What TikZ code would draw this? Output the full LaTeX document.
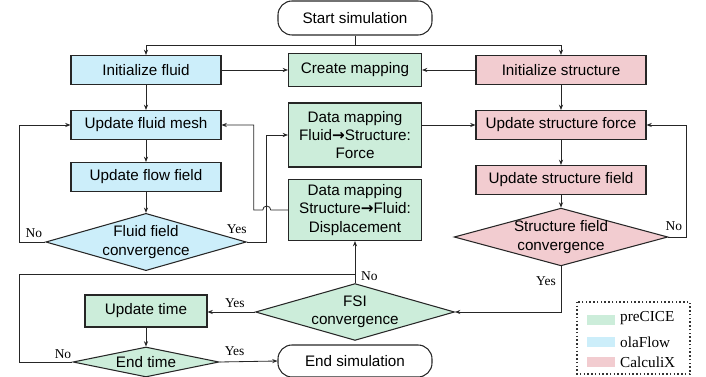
\documentclass[tikz,border=0pt]{standalone}
\usepackage{fontspec}
\setmainfont{Liberation Sans}
\newfontfamily\labelfont{Liberation Serif}
\newfontfamily\arrowfont{DejaVu Sans}
\usepackage{xcolor}
\usepackage{tikz}
\usetikzlibrary{arrows.meta,shapes.geometric,calc}
\definecolor{olablue}{HTML}{CCEEFA}
\definecolor{cicegreen}{HTML}{CCEDDA}
\definecolor{ccxpink}{HTML}{F2CCD0}
\newcommand{\boxfont}{\fontsize{13}{15.5}\selectfont}
\newcommand{\ynfont}{\labelfont\fontsize{11.5}{13}\selectfont}
\newcommand{\legfont}{\labelfont\fontsize{13}{15}\selectfont}
\newcommand{\toarrow}{{\arrowfont\bfseries →}}

\begin{document}
\begin{tikzpicture}[x=0.03cm,y=-0.03cm,
  procbox/.style={draw=black!85,line width=0.9pt,align=center,font=\boxfont,inner sep=1pt},
  fluid/.style={procbox,fill=olablue,minimum width=4.5cm,minimum height=0.87cm},
  struct/.style={procbox,fill=ccxpink,minimum width=5.1cm,minimum height=0.87cm},
  cice/.style={procbox,fill=cicegreen,minimum width=3.99cm},
  decide/.style={procbox,diamond,inner sep=0pt},
  terminal/.style={procbox,rounded corners=0.42cm,minimum width=4.62cm,minimum height=1.02cm},
  link/.style={-{Stealth[length=4.5pt,width=3.5pt]},line width=0.7pt,draw=black!85},
  yn/.style={font=\ynfont,inner sep=0pt},
  legtxt/.style={font=\legfont,inner sep=0pt,anchor=west}]
  \useasboundingbox (0,0) rectangle (706,377);

  % Start and initialization
  \node[terminal] (start) at (355,18) {Start simulation};
  \node[fluid] (ifluid) at (146,70) {Initialize fluid};
  \node[cice,minimum height=0.99cm] (cmap) at (355,70) {Create mapping};
  \node[struct] (istruct) at (561,70) {Initialize structure};

  % Fluid solver (olaFlow)
  \node[fluid] (mesh) at (146,125) {Update fluid mesh};
  \node[fluid] (ffield) at (146,177) {Update flow field};
  \node[decide,fill=olablue,aspect=3.5] (fconv) at (146,242)
    {Fluid field\\convergence};

  % Coupling (preCICE)
  \node[cice,minimum height=1.92cm] (dforce) at (355,135)
    {Data mapping\\Fluid\toarrow Structure:\\Force};
  \node[cice,minimum height=1.83cm] (ddisp) at (355,210)
    {Data mapping\\Structure\toarrow Fluid:\\Displacement};

  % Structure solver (CalculiX)
  \node[struct] (sforce) at (561,125) {Update structure force};
  \node[struct] (sfield) at (561,180) {Update structure field};
  \node[decide,fill=ccxpink,aspect=3.7] (sconv) at (561,237)
    {Structure field\\convergence};

  % Time loop
  \node[decide,fill=cicegreen,aspect=3.5] (fsi) at (355,312)
    {FSI\\convergence};
  \node[cice,minimum width=3.66cm,minimum height=0.96cm] (utime) at (146,311)
    {Update time};
  \node[decide,fill=cicegreen,aspect=6,minimum width=4.38cm,minimum height=0.9cm]
    (etime) at (146,362) {End time};
  \node[terminal,minimum height=0.96cm] (stop) at (355,361) {End simulation};

  % Connectors
  \draw[link] (start.south) -- ++(0,10) coordinate (split) -| (ifluid.north);
  \draw[link] (split) -| (istruct.north);
  \draw[link] (ifluid) -- (cmap);
  \draw[link] (istruct) -- (cmap);
  \draw[link] (ifluid) -- (mesh);
  \draw[link] (istruct) -- (sforce);
  \draw[link] (mesh) -- (ffield);
  \draw[link] (ffield) -- (fconv);
  \draw[link] (fconv.west) -- ++(-26,0) |- (mesh.west);
  \draw[link] (fconv.east) -- ++(20,0) coordinate (yesup) |- (dforce.west);
  \draw[link] (dforce.east |- sforce.west) -- (sforce.west);
  \draw[link] (sforce) -- (sfield);
  \draw[link] (sfield) -- (sconv);
  \draw[link] (sconv.east) -- ++(18,0) |- (sforce.east);
  \draw[link] (sconv.south) |- (fsi.east);
  \coordinate (hop) at (yesup |- ddisp.west);
  \draw[link] (ddisp.west) -- ($(hop)+(4,0)$)
    arc[start angle=0,end angle=180,radius=0.12cm] -- ++(-9,0) |- (mesh.east);
  \draw[link] (fsi.north) -- (ddisp.south);
  \draw[link] (fsi.west) -- (fsi.west -| utime.east);
  \draw[link] (utime) -- (etime);
  \draw[line width=0.7pt,draw=black!85] (etime.west) -- ++(-53,0)
    |- ($(fsi.north)+(0,-9)$);
  \draw[link] (etime.east) -- (stop.west);

  % Yes / No labels
  \node[yn,anchor=base east] (nofluid) at ($(fconv.west)+(-3,-4)$) {No};
  \node[yn,anchor=base west] (yesfluid) at ($(fconv.east)+(-20,-8)$) {Yes};
  \node[yn,anchor=base west] (nostruct) at ($(sconv.east)+(-3,-6)$) {No};
  \node[yn,anchor=base east] (yesstruct) at ($(sconv.south)+(-5,19)$) {Yes};
  \node[yn,anchor=base west] (nofsi) at ($(fsi.north)+(6,-3)$) {No};
  \node[yn,anchor=base east] (yesfsi) at ($(fsi.west)+(-10,-4)$) {Yes};
  \node[yn,anchor=base east] (noend) at ($(etime.west)+(-1,-4)$) {No};
  \node[yn,anchor=base west] (yesend) at ($(etime.east)+(5,-6)$) {Yes};

  % Legend
  \draw[dotted,line width=1.2pt,draw=black!80] (577,302) rectangle (690,374);
  \fill[cicegreen] (587,315) rectangle (615,325);
  \fill[olablue] (587,337) rectangle (615,347);
  \fill[ccxpink] (587,357) rectangle (615,367);
  \node[legtxt] (lcice) at (620,318) {preCICE};
  \node[legtxt] (lola) at (620,342) {olaFlow};
  \node[legtxt] (lccx) at (620,362) {CalculiX};
\end{tikzpicture}
\end{document}
